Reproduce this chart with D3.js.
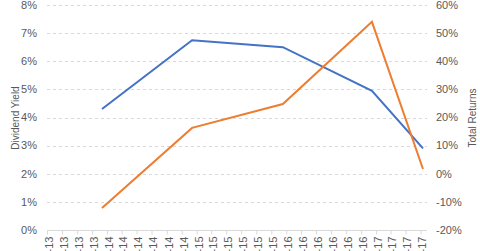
<!DOCTYPE html>
<html>
<head>
<meta charset="utf-8">
<script src="https://cdn.jsdelivr.net/npm/d3@7"></script>
<style>
  body { margin: 0; background: #fff; }
  svg { display: block; font-family: "Liberation Sans", Arial, sans-serif; }
</style>
</head>
<body>
<div id="chart"></div>
<script>
// Datos
const fechas = ["2013-12-05", "2014-12-07", "2015-12-12", "2016-12-09", "2017-07-05"];
const dividendYield = [4.3, 6.75, 6.5, 4.95, 2.9];
const totalReturns = [-12.2, 16.3, 24.8, 54.0, 1.7];

const ticksFechas = ["2013-05-01", "2013-07-01", "2013-09-01", "2013-11-01",
    "2014-01-01", "2014-03-01", "2014-05-01", "2014-07-01", "2014-09-01", "2014-11-01",
    "2015-01-01", "2015-03-01", "2015-05-01", "2015-07-01", "2015-09-01", "2015-11-01",
    "2016-01-01", "2016-03-01", "2016-05-01", "2016-07-01", "2016-09-01", "2016-11-01",
    "2017-01-01", "2017-03-01", "2017-05-01", "2017-07-01"];
const ticksIzq = [0, 1, 2, 3, 4, 5, 6, 7, 8];
const ticksDer = [-20, -10, 0, 10, 20, 30, 40, 50, 60];

const WIDTH = 480;
const HEIGHT = 251;
const MARGIN = { top: 5, bottom: 21, left: 47, right: 53 };

const parseFecha = d3.timeParse("%Y-%m-%d");
const formatoTick = d3.timeFormat("%b-%y");

const svg = d3.select("#chart")
    .append("svg")
    .attr("width", WIDTH)
    .attr("height", HEIGHT);

const x = d3.scaleTime()
    .domain([parseFecha(ticksFechas[0]), parseFecha(ticksFechas[ticksFechas.length - 1])])
    .range([MARGIN.left + 1.5, WIDTH - MARGIN.right - 5]);

const yIzq = d3.scaleLinear()
    .domain([0, 8])
    .range([HEIGHT - MARGIN.bottom - 0, MARGIN.top]);

const yDer = d3.scaleLinear()
    .domain([-20, 60])
    .range([HEIGHT - MARGIN.bottom - 0, MARGIN.top]);

const x0 = MARGIN.left;
const x1 = WIDTH - MARGIN.right;
const yBase = yIzq(0);

// grilla
svg.append("g")
    .selectAll("line")
    .data(ticksIzq.filter(d => d > 0))
    .join("line")
    .attr("x1", x0)
    .attr("x2", x1)
    .attr("y1", d => Math.round(yIzq(d)) + 0.5)
    .attr("y2", d => Math.round(yIzq(d)) + 0.5)
    .attr("stroke", "#d9d9d9")
    .attr("stroke-dasharray", "3,3");

// eje x
const ejeX = d3.axisBottom(x)
    .tickValues(ticksFechas.map(parseFecha))
    .tickFormat(formatoTick)
    .tickSize(4)
    .tickSizeOuter(0);

const gx = svg.append("g")
    .attr("transform", `translate(0, ${Math.round(yBase) + 0.5})`)
    .call(ejeX);

gx.select(".domain").attr("d", `M${x0},0H${x1}`).attr("stroke", "#d9d9d9");
gx.selectAll(".tick line").attr("stroke", "#d9d9d9").attr("transform", "translate(-1.5,0)");
gx.selectAll("text")
    .attr("fill", "#595959")
    .attr("font-size", 11)
    .attr("transform", "rotate(-90)")
    .attr("x", -6)
    .attr("y", 0)
    .attr("dy", "0.35em")
    .style("text-anchor", "end");

// ejes y
svg.append("g")
    .selectAll("text")
    .data(ticksIzq)
    .join("text")
    .attr("x", x0 - 10)
    .attr("y", d => yIzq(d))
    .attr("dy", "0.35em")
    .attr("text-anchor", "end")
    .attr("font-size", 11)
    .attr("fill", "#595959")
    .text(d => d + "%");

svg.append("g")
    .selectAll("text")
    .data(ticksDer)
    .join("text")
    .attr("x", x1 + 9)
    .attr("y", d => yDer(d))
    .attr("dy", "0.35em")
    .attr("text-anchor", "start")
    .attr("font-size", 11)
    .attr("fill", "#595959")
    .text(d => d + "%");

// titulos
svg.append("text")
    .attr("transform", `translate(19, 118) rotate(-90)`)
    .attr("text-anchor", "middle")
    .attr("font-size", 10)
    .attr("fill", "#595959")
    .text("Dividend Yield");

svg.append("text")
    .attr("transform", `translate(476, 118) rotate(-90)`)
    .attr("text-anchor", "middle")
    .attr("font-size", 10)
    .attr("fill", "#595959")
    .text("Total Returns");

// lineas
const datos = fechas.map((f, i) => ({ fecha: parseFecha(f), dy: dividendYield[i], tr: totalReturns[i] }));

svg.append("path")
    .datum(datos)
    .attr("fill", "none")
    .attr("stroke", "#4472C4")
    .attr("stroke-width", 2)
    .attr("d", d3.line().x(d => x(d.fecha)).y(d => yIzq(d.dy)));

svg.append("path")
    .datum(datos)
    .attr("fill", "none")
    .attr("stroke", "#ED7D31")
    .attr("stroke-width", 2)
    .attr("d", d3.line().x(d => x(d.fecha)).y(d => yDer(d.tr)));
</script>
</body>
</html>
